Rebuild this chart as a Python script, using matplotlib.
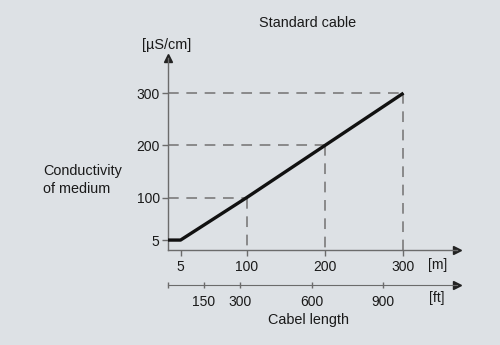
import numpy as np
import matplotlib
matplotlib.use("Agg")
import matplotlib.pyplot as plt

# ---- data ----
length_m = [0, 5, 100, 200, 300]
conductivity = [5, 5, 100, 200, 300]
x_ticks_m = [5, 100, 200, 300]
y_ticks = [5, 100, 200, 300]
ft_ticks = [0, 150, 300, 600, 900]
ft_labels = ["", "150", "300", "600", "900"]
guide_points_x = [100, 200, 300]
guide_points_y = [100, 200, 300]

BG = "#dde1e5"
AXC = "#6b6b6b"
DASH = "#727272"
FONT = "Liberation Sans"
FS = 10
FSL = 10.4

# schematic (piecewise linear) scales
xk_d, xk_s = [0, 5, 100, 2000], [0, 16, 100, 2000]
yk_d, yk_s = [0, 5, 100, 2000], [0, 19, 100, 2000]

def fx(v): return np.interp(v, xk_d, xk_s)
def fxi(v): return np.interp(v, xk_s, xk_d)
def fy(v): return np.interp(v, yk_d, yk_s)
def fyi(v): return np.interp(v, yk_s, yk_d)

fig = plt.figure(figsize=(5, 3.45), dpi=100, facecolor=BG)
W, H = 500, 345
x0, x1 = 168, 457
y0, y1 = 250, 58
ax = fig.add_axes([x0 / W, 1 - y0 / H, (x1 - x0) / W, (y0 - y1) / H])
ax.set_facecolor("none")
ax.set_xscale("function", functions=(fx, fxi))
ax.set_yscale("function", functions=(fy, fyi))
xmax = fxi((x1 - x0) / 0.785)
ymax = fyi((y0 - y1) / 0.523)
ax.set_xlim(0, xmax)
ax.set_ylim(0, ymax)

for s in ["top", "right"]:
    ax.spines[s].set_visible(False)
for s in ["left", "bottom"]:
    ax.spines[s].set_color(AXC)
    ax.spines[s].set_linewidth(1.0)

ax.set_xticks(x_ticks_m)
ax.set_xticklabels([str(v) for v in x_ticks_m])
ax.set_yticks(y_ticks)
ax.set_yticklabels([str(v) for v in y_ticks])
ax.minorticks_off()
ax.tick_params(axis="both", length=4, width=1, color=AXC, labelsize=FS, labelcolor="#1a1a1a")
ax.tick_params(axis="x", pad=3.5)
ax.tick_params(axis="y", pad=2)
for lab in ax.get_xticklabels() + ax.get_yticklabels():
    lab.set_fontfamily(FONT)

# arrowheads
ax.plot(1, 0, marker=">", color="#222222", markersize=6, transform=ax.transAxes, clip_on=False)
ax.plot(0, 1, marker="^", color="#222222", markersize=6, transform=ax.transAxes, clip_on=False)

# guide dashed lines
for gx, gy in zip(guide_points_x, guide_points_y):
    ax.plot([0, gx], [gy, gy], color=DASH, lw=1.1, dashes=(7, 5), clip_on=False)
    ax.plot([gx, gx], [gy, 0], color=DASH, lw=1.1, dashes=(7, 5), clip_on=False)

ax.plot(length_m, conductivity, color="#111111", lw=2.4, solid_capstyle="butt", clip_on=False, zorder=5)

# feet axis
yft = 285
ax2 = fig.add_axes([x0 / W, 1 - yft / H, (x1 - x0) / W, 0.001])
ax2.set_facecolor("none")
for s in ["top", "right", "left"]:
    ax2.spines[s].set_visible(False)
ax2.spines["bottom"].set_color(AXC)
ax2.set_yticks([])
ax2.set_xlim(0, (x1 - x0) / 0.785 / 0.3048)
ax2.set_xticks(ft_ticks)
ax2.set_xticklabels(ft_labels)
ax2.tick_params(axis="x", length=5, width=1, color=AXC, direction="inout", labelsize=FS,
                labelcolor="#1a1a1a", pad=5)
for lab in ax2.get_xticklabels():
    lab.set_fontfamily(FONT)
ax2.plot(1, 0, marker=">", color="#222222", markersize=6, transform=ax2.transAxes, clip_on=False)

def ftext(x, y, s, fs=FSL, **kw):
    fig.text(x / W, 1 - y / H, s, fontsize=fs, family=FONT, color="#1a1a1a", **kw)

ftext(308, 23, "Standard cable", ha="center", va="center")
ftext(167, 45, "[µS/cm]", ha="center", va="center")
ftext(43, 180, "Conductivity\nof medium", ha="left", va="center", linespacing=1.35)
ftext(438, 265, "[m]", fs=FS, ha="center", va="center")
ftext(437, 298, "[ft]", fs=FS, ha="center", va="center")
ftext(309, 320, "Cabel length", ha="center", va="center")

fig.savefig("out.png", dpi=100, facecolor=BG)
